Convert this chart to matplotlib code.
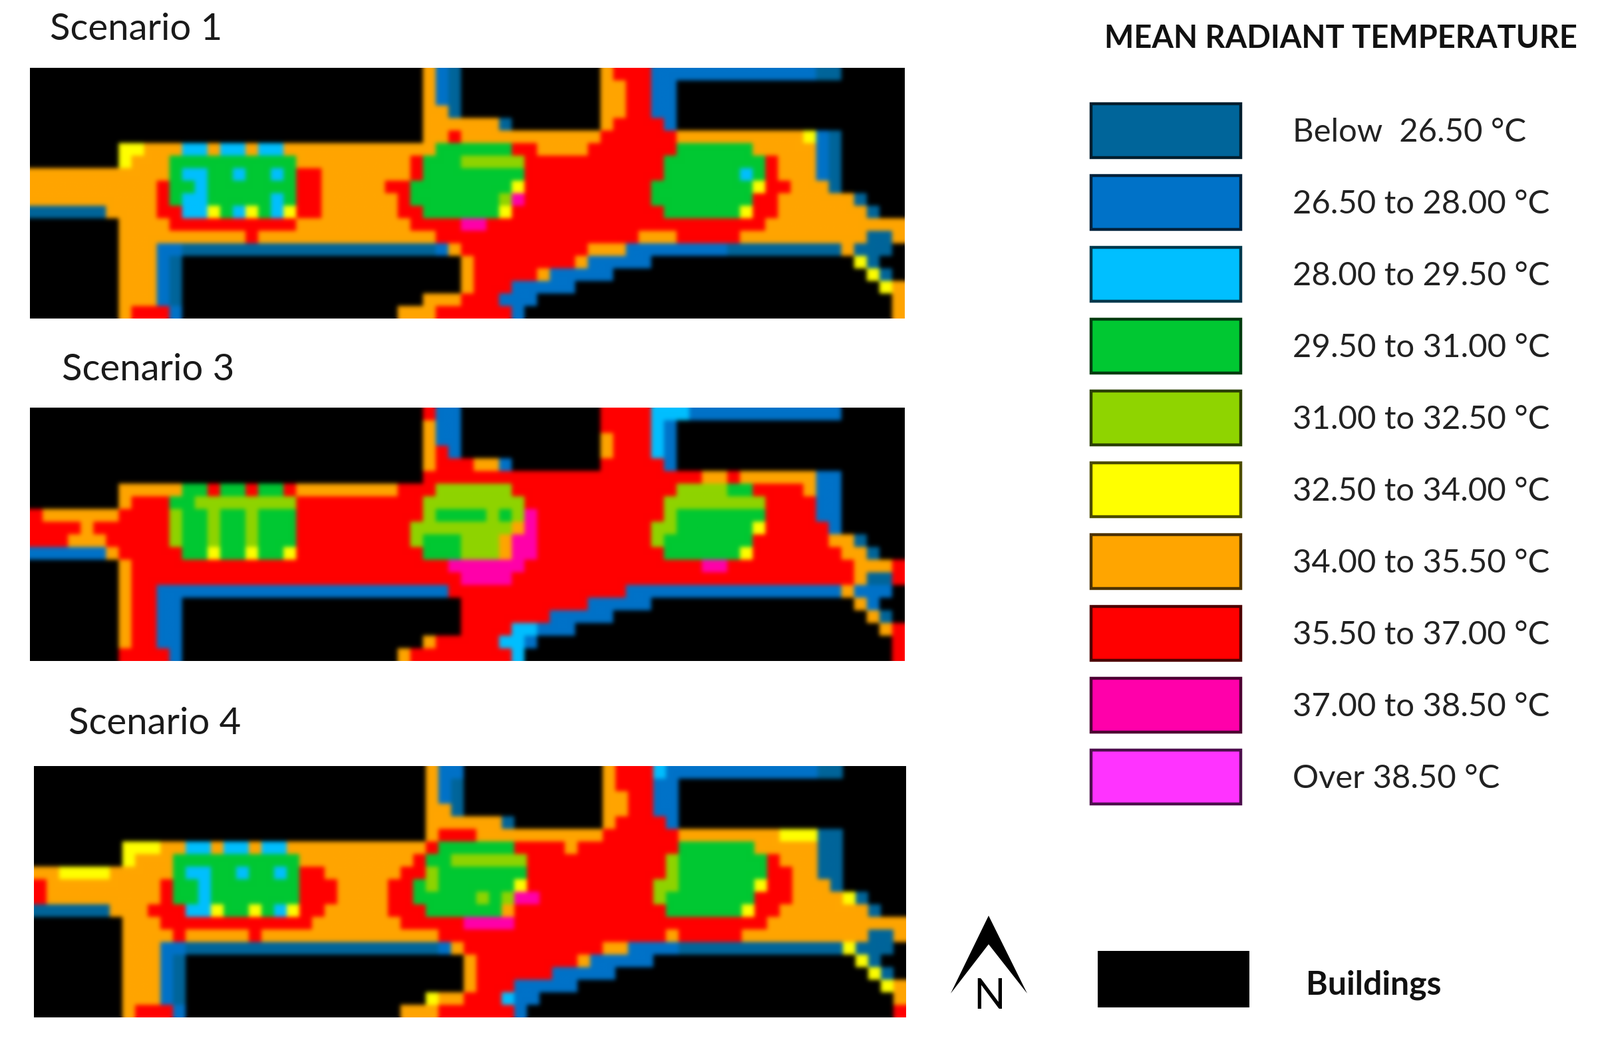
import re
import numpy as np
import matplotlib
matplotlib.use("Agg")
import matplotlib.pyplot as plt
from matplotlib.colors import to_rgb
from matplotlib.patches import Polygon, Rectangle

W, H = 2405, 1567
FONT = "Lato"

TITLE = "MEAN RADIANT TEMPERATURE"
CLASS_LABELS = ["Below  26.50 °C", "26.50 to 28.00 °C", "28.00 to 29.50 °C", "29.50 to 31.00 °C",
                "31.00 to 32.50 °C", "32.50 to 34.00 °C", "34.00 to 35.50 °C", "35.50 to 37.00 °C",
                "37.00 to 38.50 °C", "Over 38.50 °C"]
CLASS_KEYS = list("dbcglyormp")
CLASS_COLORS = ["#00659a", "#0072c8", "#00bfff", "#00c832", "#8fd400",
                "#ffff00", "#ffa500", "#ff0000", "#ff00aa", "#ff33ff"]
BUILDING_COLOR = "#000000"

# Cell classes per row, run-length coded: "7B" = seven building cells, etc.
SCENARIO_1 = [
    "31B o b d 11B o 3r 13b 2d 5B",
    "31B o b d 11B 2o 2r 2b 18B",
    "31B o b d 11B 2o 2r 2b 18B",
    "31B 2o d 11B 2o 2r 2b 18B",
    "31B 6o d 7B o 4r b 18B",
    "31B 2o r 11o 6r 10o y b d 5B",
    "7B 2y 3o 2c o 2c o 2c 12o 6g 2r 4o 7r 6g 5o b d 5B",
    "7B y 3o 10g 9o r 3g 5l 11r 8g r 3o b d 5B",
    "11o g 2c 2g c 2g c g 2r 7o r 8g 11r 6g c g r 3o b d 5B",
    "10o r 2g c 7g 2r 5o 2r 8g y 10r 8g y 2r 3o d 5B",
    "10o r g 2c 5g c g 2r 6o r 7g l m 10r 8g 2r 6o d 3B",
    "6d 4o 2r 2c y g c y g c y 2r 6o 2r 6g y 12r 6g y 2r 7o d 2B",
    "7B 4o 10r 9o 4r 2m 22r 11o",
    "7B 10o r 14o 16r 3o 5r 10o 2d o",
    "7B 3o 2b 20d b o 10r 3o 8b 9d o 3d B",
    "7B 3o b d 22B o 8r o 5b 16B y d 2B",
    "7B 3o b d 22B o 5r o 5b 20B y d B",
    "7B 3o b d 22B o 3r 5b 24B y o",
    "7B 3o b d 19B 3o 3r 3b 28B o",
    "7B o 3r b 17B 3o 6r b 29B o",
]
SCENARIO_3 = [
    "31B r 2b 11B 4r 3c 12b 5B",
    "31B o 2b 11B 4r c b 18B",
    "31B o 2b 11B o 3r c b 18B",
    "31B o r b 11B o 3r c b 18B",
    "31B o 3r 2o b 7B 5r b 18B",
    "31B 22r 2o r 6o 2b 5B",
    "7B 5o 2g r 2g r 2g r 8o 3r 6l 13r 4l 2g 4r o 2b 5B",
    "7B o 3r 2g 8l 10r 8l 11r 8l 4r 2b 5B",
    "r 6o 4r l 2g l 2g l 3g 10r l 3g g l g l m 10r l 7g 4r 2b 5B",
    "4r o 6r l 2g l 2g l 3g 9r 8l o m 9r 2l 6g y 5r b 5B",
    "3r 3o 5r l 2g l 2g l 3g 9r l 3g 3l o 2m 9r l 7g 6r 2o d 3B",
    "6b o 5r 2g y 2g y 2g y 10r 3g 3l o 2m 10r 6g y 7r 2o d 2B",
    "7B o 25r 6m 14r 2m 10r 3o r",
    "7B o 26r 4m 27r o 2d r",
    "7B o 2r 23b 14r 17b o 3b B",
    "7B o 2r 2b 22B 10r 5b 16B o b 2B",
    "7B o 2r 2b 22B 7r 5b 20B o d B",
    "7B o 2r 2b 22B 4r 2c 3b 24B o r",
    "7B o 2r 2b 19B o 5r 2c b 28B r",
    "7B 4r b 17B o 8r c 29B r",
]
SCENARIO_4 = [
    "31B o 2b 11B o 3r c 12b 2d 5B",
    "31B o b d 11B o 3r 2b 18B",
    "31B o b d 11B 2o 2r 2b 18B",
    "31B 2o d 11B 2o 2r 2b 18B",
    "31B 6o d 7B o 4r b 18B",
    "31B o 3r 10o 6r 8o 3y 2d 5B",
    "7B 3y 2o 2c o 2c o 2c 11o r 6g 4r o 8r 6g 5o 2d 5B",
    "7B y 3o 10g 9o r 2g 6l 11r l 7g r 3o 2d 5B",
    "2o 4y 5o g 2c 2g c 2g c g 2r 6o 2r l 7g 11r l 7g 2r 2o 2d 5B",
    "r 9o r 2g c 7g 3r 4o 2r g l 6g y 10r 2l 6g y 2r 3o d 5B",
    "r 9o r 2g c 7g 3r 4o 2r 5g l g l 2m 9r l 7g 3r 4o y d 3B",
    "6d 3o 3r 2c y 2g y g c y 2r 5o 3r 6g o 12r 6g y 2r 7o d 2B",
    "7B 3o 12r 7o 5r 4m 20r 11o",
    "7B 4o r 5o r 14o 18r o 5r 10o 2d o",
    "7B 3o 2b 20d b o 11r 2o 4b 13d y 3d B",
    "7B 3o b d 22B o 8r o 5b 16B y d 2B",
    "7B 3o b d 22B o 6r 5b 20B y d B",
    "7B 3o b d 22B o 3r 5b 24B y o",
    "7B 3o b d 19B y 2o 3r c 2b 28B o",
    "7B o 3r b 17B 3o 6r b 29B r",
]
SCENARIOS = ["Scenario 1", "Scenario 3", "Scenario 4"]

palette = dict(zip(CLASS_KEYS, CLASS_COLORS))
palette["B"] = BUILDING_COLOR


def decode(rows):
    grid = []
    for row in rows:
        cells = ""
        for count, key in re.findall(r"(\d*)([A-Za-z])", row):
            cells += key * (int(count) if count else 1)
        grid.append(cells.ljust(69, "B")[:69])
    return grid


def soften(grid, scale=10, sigma=1.7):
    rgb = np.array([[to_rgb(palette[k]) for k in row] for row in grid])
    up = rgb.repeat(scale, axis=0).repeat(scale, axis=1)
    x = np.arange(-6, 7)
    kern = np.exp(-x ** 2 / (2 * sigma ** 2))
    kern /= kern.sum()
    for axis in (0, 1):
        pad = [(0, 0)] * 3
        pad[axis] = (6, 6)
        up = np.apply_along_axis(lambda v: np.convolve(v, kern, mode="valid"), axis, np.pad(up, pad, mode="edge"))
    return up


fig = plt.figure(figsize=(W / 100, H / 100), dpi=100, facecolor="white")


def box_axes(x0, y0, x1, y1):
    ax = fig.add_axes([x0 / W, 1 - y1 / H, (x1 - x0) / W, (y1 - y0) / H])
    ax.set_axis_off()
    return ax


MAP_BOXES = [(45, 102, 1359, 479), (45, 613, 1359, 994), (51, 1152, 1362, 1530)]
for rows, box in zip([SCENARIO_1, SCENARIO_3, SCENARIO_4], MAP_BOXES):
    ax = box_axes(*box)
    ax.imshow(soften(decode(rows)), aspect="auto", interpolation="bilinear")

over = fig.add_axes([0, 0, 1, 1], facecolor="none")
over.set_xlim(0, W)
over.set_ylim(H, 0)
over.set_axis_off()

for name, x, y in zip(SCENARIOS, [75, 93, 103], [44, 556, 1088]):
    over.text(x, y, name, fontsize=40.5, family=FONT, ha="left", va="center", color="#1a1a1a")

over.text(1660, 58, TITLE, fontsize=33.8, family=FONT, fontweight="bold", ha="left", va="center", color="#111111")

for i, (label, color) in enumerate(zip(CLASS_LABELS, CLASS_COLORS)):
    top = 156 + 108 * i
    edge = tuple(c * 0.3 for c in to_rgb(color))
    over.add_patch(Rectangle((1640, top), 225, 81, facecolor=color, edgecolor=edge, linewidth=3.2))
    over.text(1943, top + 43, label, fontsize=35.3, family=FONT, ha="left", va="center", color="#222222")

over.add_patch(Rectangle((1650, 1430), 228, 85, facecolor=BUILDING_COLOR, edgecolor="none"))
over.text(1963, 1481, "Buildings", fontsize=36, family=FONT, fontweight="bold", ha="left", va="center", color="#111111")

over.add_patch(Polygon([(1486, 1377), (1544, 1494), (1486, 1420), (1429, 1494)], closed=True,
                       facecolor="black", edgecolor="none"))
over.text(1487, 1499, "N", fontsize=45, family=FONT, ha="center", va="center", color="black")

fig.savefig("out.png", dpi=100)
